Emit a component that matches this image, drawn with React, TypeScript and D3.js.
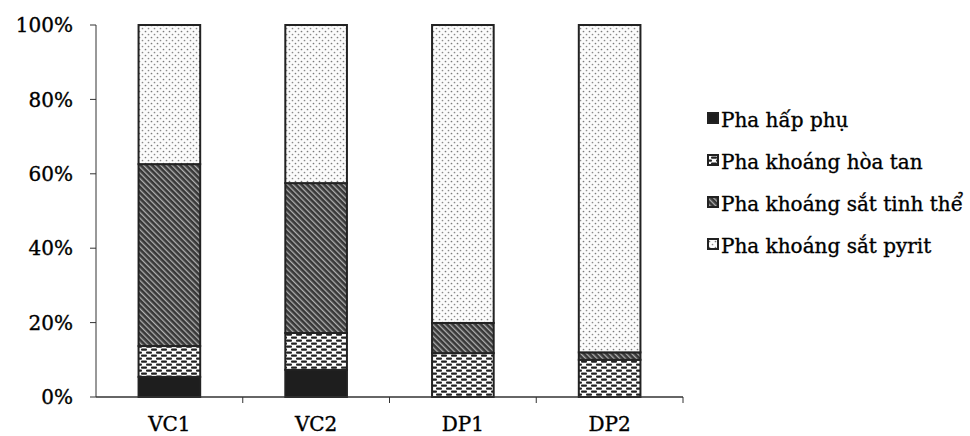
import React from 'react';
import * as d3 from 'd3';

// categories and the four phases (% of total arsenic)
const categories = ['VC1', 'VC2', 'DP1', 'DP2'];
const hapPhu = [5.4, 7.3, 0, 0];
const hoaTan = [8.3, 9.9, 11.8, 10.0];
const tinhThe = [48.9, 40.3, 8.1, 2.0];
const pyrit = [37.4, 42.5, 80.1, 88.0];
const yTicks = [0, 0.2, 0.4, 0.6, 0.8, 1];

const seriesKeys = ['hapPhu', 'hoaTan', 'tinhThe', 'pyrit'];
const seriesNames = ['Pha hấp phụ', 'Pha khoáng hòa tan', 'Pha khoáng sắt tinh thể', 'Pha khoáng sắt pyrit'];
const fills = ['#1e1e1e', 'url(#pHoaTan)', 'url(#pTinhThe)', 'url(#pPyrit)'];

const font = '"DejaVu Serif", serif';

const App = () => {
  const width = 970;
  const height = 436;
  const margin = { top: 25, left: 96, right: 287, bottom: 39 };

  const rows = categories.map((c, i) => ({
    cat: c,
    hapPhu: hapPhu[i],
    hoaTan: hoaTan[i],
    tinhThe: tinhThe[i],
    pyrit: pyrit[i],
  }));

  const stacked = d3.stack<any>().keys(seriesKeys).offset(d3.stackOffsetExpand)(rows);

  const x = d3.scaleBand()
    .domain(categories)
    .range([margin.left, width - margin.right])
    .paddingInner(0.58)
    .paddingOuter(0.29);
  const y = d3.scaleLinear().domain([0, 1]).range([height - margin.bottom, margin.top]);
  const fmt = d3.format('.0%');

  const x0 = margin.left;
  const x1 = width - margin.right;
  const yBase = y(0);
  const step = x.step();
  const bounds = d3.range(1, categories.length + 1).map((i) => x0 + step * i);

  return (
    <svg width={width} height={height} style={{ position: 'absolute', left: 0, top: 0, background: '#fff' }}>
      <defs>
        <pattern id="pPyrit" width="6" height="6" patternUnits="userSpaceOnUse">
          <rect width="6" height="6" fill="#fbfbfb" />
          <circle cx="1.5" cy="1.5" r="0.85" fill="#7a7a7a" />
          <circle cx="4.5" cy="4.5" r="0.85" fill="#8a8a8a" />
        </pattern>
        <pattern id="pHoaTan" width="10" height="6" patternUnits="userSpaceOnUse">
          <rect width="10" height="6" fill="#fdfdfd" />
          <rect x="1" y="0.5" width="6" height="2.2" rx="1" fill="#222" />
          <rect x="6" y="3.5" width="6" height="2.2" rx="1" fill="#222" />
          <rect x="-4" y="3.5" width="6" height="2.2" rx="1" fill="#222" />
        </pattern>
        <pattern id="pTinhThe" width="4" height="4" patternUnits="userSpaceOnUse" patternTransform="rotate(-45)">
          <rect width="4" height="4" fill="#383838" />
          <rect x="0" y="0" width="1.3" height="4" fill="#b0b0b0" />
        </pattern>
      </defs>

      {/* bars */}
      {stacked.map((s, si) => (
        <g key={seriesKeys[si]}>
          {s.map((d: any, i) => {
            const h = y(d[0]) - y(d[1]);
            if (h <= 0) return null;
            return (
              <rect
                key={i}
                x={x(categories[i])}
                y={y(d[1])}
                width={x.bandwidth()}
                height={h}
                fill={fills[si]}
                stroke="#222"
                strokeWidth={2}
              />
            );
          })}
        </g>
      ))}

      {/* y axis */}
      <line x1={x0} x2={x0} y1={y(1)} y2={yBase} stroke="#333" strokeWidth={1} />
      {yTicks.map((t) => (
        <g key={t}>
          <line x1={x0 - 6} x2={x0} y1={y(t)} y2={y(t)} stroke="#333" strokeWidth={1} />
          <text x={73} y={y(t)} dy="0.36em" textAnchor="end" fontFamily={font} fontSize={20} fill="#000" stroke="#000" strokeWidth={0.35}>
            {fmt(t)}
          </text>
        </g>
      ))}

      {/* x axis */}
      <line x1={x0} x2={x1} y1={yBase} y2={yBase} stroke="#333" strokeWidth={1.5} />
      {bounds.map((b, i) => (
        <line key={i} x1={b} x2={b} y1={yBase} y2={yBase + 6} stroke="#333" strokeWidth={1} />
      ))}
      {categories.map((c) => (
        <text key={c} x={(x(c) as number) + x.bandwidth() / 2} y={431} textAnchor="middle" fontFamily={font} fontSize={20} fill="#000" stroke="#000" strokeWidth={0.35}>
          {c}
        </text>
      ))}

      {/* legend */}
      {seriesNames.map((name, i) => {
        const base = 127 + i * 42;
        return (
          <g key={name}>
            <rect x={708} y={base - 14} width={10} height={10} fill={fills[i]} stroke="#222" strokeWidth={2} />
            <text x={721} y={base} fontFamily={font} fontSize={20} fill="#000" stroke="#000" strokeWidth={0.35}>
              {name}
            </text>
          </g>
        );
      })}
    </svg>
  );
};

export default App;
